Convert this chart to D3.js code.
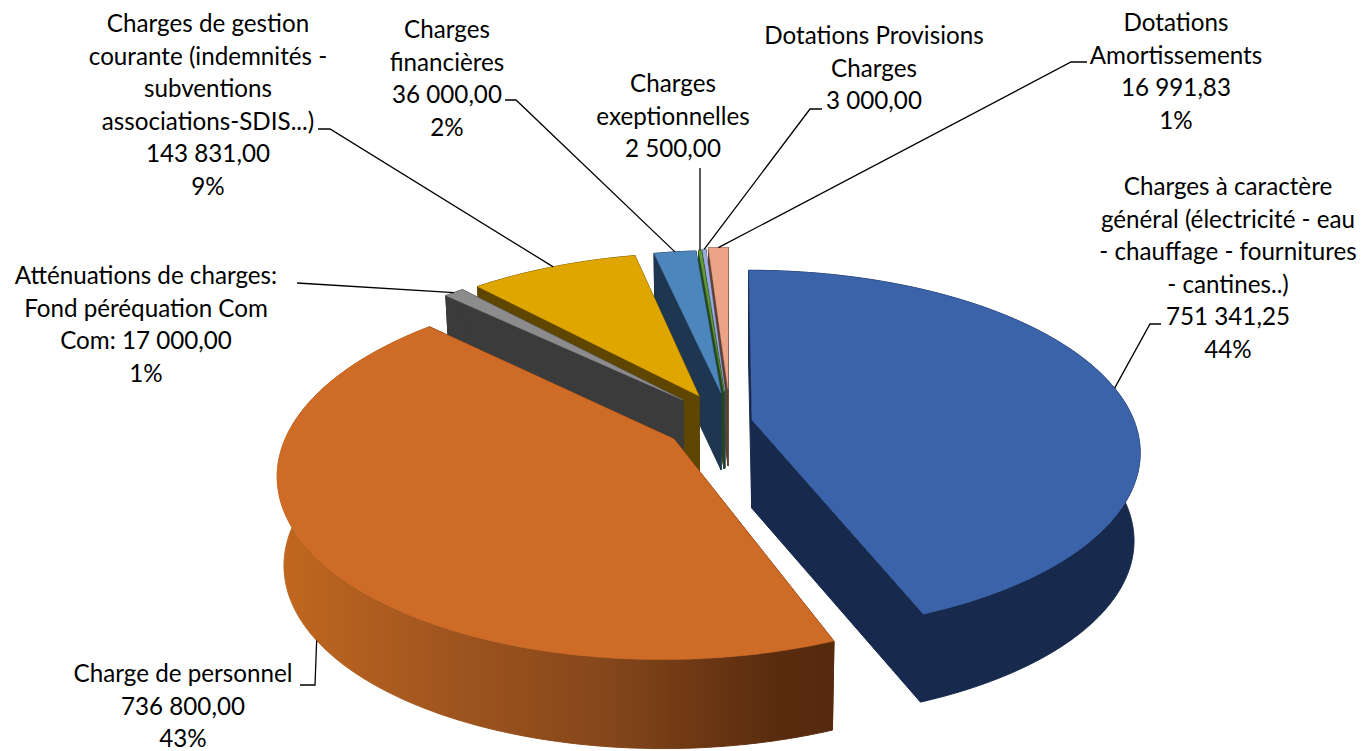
<!DOCTYPE html>
<html><head><meta charset="utf-8">
<script src="https://cdn.jsdelivr.net/npm/d3@7"></script>
<style>html,body{margin:0;padding:0;background:#fff}svg{display:block}text{font-family:Lato,"Open Sans",sans-serif;fill:#000}</style>
</head><body><div id="chart"></div>
<script>
// ---- data ----
const categoryLines = [
  ["Charges à caractère","général (électricité - eau","- chauffage - fournitures","- cantines..)"],
  ["Charge de personnel"],
  ["Atténuations de charges:","Fond péréquation Com","Com:"],
  ["Charges de gestion","courante (indemnités -","subventions","associations-SDIS...)"],
  ["Charges","financières"],
  ["Charges","exeptionnelles"],
  ["Dotations Provisions","Charges"],
  ["Dotations","Amortissements"]
];
const values = [751341.25, 736800, 17000, 143831, 36000, 2500, 3000, 16991.83];
const percentLabels = ["44%","43%","1%","9%","2%",null,null,"1%"];

// ---- style & layout ----
const W = 1364, H = 751;
const topColors  = ["#3b63a9","#cd6b27","#8c8c8c","#dfa600","#4c86bc","#5f9b3b","#9cabdf","#eca489"];
const wallColors = ["#172a4d","url(#orangeWall)","#3b3b3b","#5e4500","#1f3650","#27471b","#3d4a72","#5d3f33"];
const apex = [[752,420],[674,439],[683,400],[699,396],[721,393],[724,392],[725,391],[728,389]];
const depths = [88,89,77,77,77,77,77,77];
const labelPos = [[1228,187],[183,674],[146,276],[208,24],[447,30],[673,84],[874,36],[1176,23]];
const leaderElbow = [[[1161,324],[1150,324]],[[300,685],[315,685]],[[297,283]],[[318,129],[330,129]],[[505,100],[516,100]],[[700,168]],[[822,109],[810,109]],[[1087,62],[1071,62]]];
const lineH = 32.5, fontSize = 24.2;
const O = {x:730,y:410}, A = 378, B = 172, K = 0.17, S = 0.985;

const svg = d3.select("#chart").append("svg").attr("width",W).attr("height",H);
const grad = svg.append("defs").append("linearGradient").attr("id","orangeWall")
  .attr("gradientUnits","userSpaceOnUse").attr("x1",283).attr("x2",828).attr("y1",0).attr("y2",0);
[[0,"#c0671f"],[0.25,"#a5581f"],[0.6,"#84461a"],[0.9,"#5a2c0f"],[1,"#552a0e"]]
  .forEach(d=>grad.append("stop").attr("offset",d[0]).attr("stop-color",d[1]));

// perspective of the pie plane
const proj = (X,Y)=>{const w=1-K*Y; return [O.x+A*X/w, O.y+B*Y/w];};
const unproj = (sx,sy)=>{const y=sy-O.y,x=sx-O.x; const Y=y/(B+K*y); return [x*(1-K*Y)/A,Y];};
const lower = (p,d)=>[O.x+(p[0]-O.x)*S, p[1]+d];

const arcs = d3.pie().sort(null).startAngle(0).endAngle(2*Math.PI)(values);
const line = d3.line();

const slices = arcs.map((a,i)=>{
  const c = unproj(apex[i][0],apex[i][1]);
  const at = t=>proj(c[0]+Math.sin(t), c[1]-Math.cos(t));
  const n = Math.max(2,Math.ceil((a.endAngle-a.startAngle)/0.01));
  const rim = d3.range(n+1).map(j=>at(a.startAngle+(a.endAngle-a.startAngle)*j/n));
  return {i,a,at,rim,c:proj(c[0],c[1]),d:depths[i]};
});

const g = svg.append("g");
// back to front
[7,6,5,4,3,2,1,0].forEach(i=>{
  const s = slices[i], low = p=>lower(p,s.d);
  const first=s.rim[0], last=s.rim[s.rim.length-1];
  const sg = g.append("g");
  const solid = wallColors[i].startsWith("url") ? "#6b3715" : wallColors[i];
  const wall = (pts,fill,sw)=>sg.append("path").attr("d",line(pts)+"Z").attr("fill",fill).attr("stroke",fill).attr("stroke-width",sw);
  wall([s.c,first,low(first),low(s.c)],solid,1);
  wall([s.c,last,low(last),low(s.c)],solid,1);
  wall(s.rim.concat(s.rim.slice().reverse().map(low)),wallColors[i],1);
  sg.append("path").attr("d",line([s.c].concat(s.rim))+"Z").attr("fill",topColors[i]).attr("stroke",topColors[i]).attr("stroke-width",0.4);
});

// labels
const fmt = d3.formatLocale({decimal:",",thousands:" ",grouping:[3]}).format(",.2f");
const lab = svg.append("g").attr("font-size",fontSize).attr("text-anchor","middle");
categoryLines.forEach((names,i)=>{
  const lines = names.slice();
  const v = fmt(values[i]);
  if (lines[lines.length-1].endsWith(":") && lines.length>2) lines[lines.length-1]+=" "+v; else lines.push(v);
  if (percentLabels[i]) lines.push(percentLabels[i]);
  const t = lab.append("text").attr("x",labelPos[i][0]);
  lines.forEach((l,j)=>t.append("tspan").attr("x",labelPos[i][0]).attr("y",labelPos[i][1]+j*lineH+8).text(l));
});
// leader lines
slices.forEach((s,i)=>{
  const mid=(s.a.startAngle+s.a.endAngle)/2, p=s.at(mid);
  const end = -Math.cos(mid)>0.3 ? lower(p,s.d) : p;
  svg.append("path").attr("d",line(leaderElbow[i].concat([end]))).attr("fill","none").attr("stroke","#000").attr("stroke-width",1.3);
});
</script></body></html>
